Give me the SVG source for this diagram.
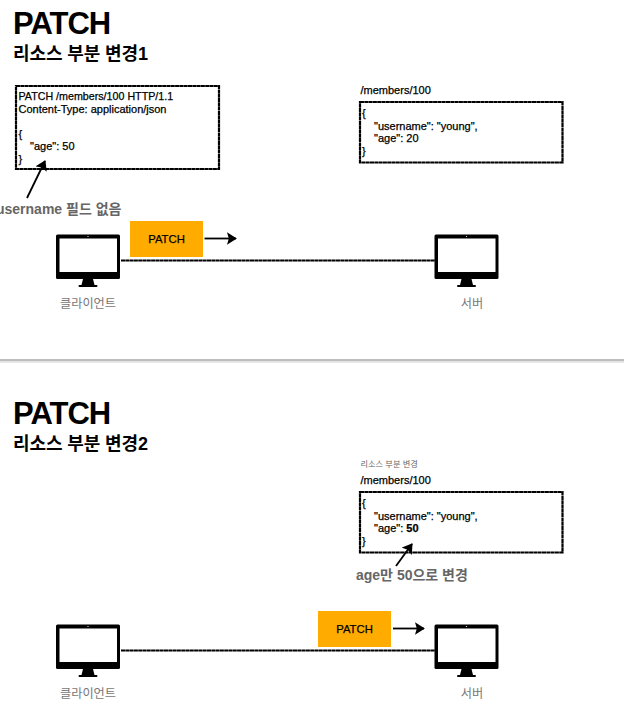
<svg xmlns="http://www.w3.org/2000/svg" width="624" height="715" viewBox="0 0 624 715">
<style>
text{font-family:"Liberation Sans","Noto Sans CJK KR",sans-serif;fill:#000}
.title{font-size:31px;font-weight:700;letter-spacing:-1px}
.sub{font-size:18px;font-weight:700;letter-spacing:-.1px}
.code{font-size:11px;stroke:#000;stroke-width:.25px}
.box{fill:#fff;stroke:#000;stroke-width:2.200;stroke-dasharray:4 .3}
.line{fill:none;stroke:#000;stroke-width:1.800;stroke-dasharray:4 .3}
.arrow{fill:none;stroke:#000;stroke-width:1.800}
.head{fill:#000}
.cap{font-size:12.200px;fill:#777;text-anchor:middle}
.note{font-size:14px;font-weight:700;fill:#666}
.btn{fill:#ffab00}
.btnt{font-size:11.300px;text-anchor:middle;stroke:#000;stroke-width:.25px}
</style>
<defs>
<marker id="ah" markerWidth="6" markerHeight="7" refX="5" refY="3.500" orient="auto" markerUnits="strokeWidth"><path d="M0 0L5.500 3.500L0 7L1 3.500Z" class="head"/></marker>
<g id="mon">
<rect x="0" y="0" width="64" height="44.500" rx="1.500" fill="#000"/>
<rect x="3.500" y="4" width="57.500" height="33.500" fill="#fff"/>
<circle cx="32" cy="2" r=".6" fill="#fff"/>
<path d="M27 44.500H37L38.500 50.500H25.500Z" fill="#000"/>
<rect x="22.500" y="50.500" width="19" height="2" rx="1" fill="#000"/>
</g>
</defs>
<rect x="0" y="359" width="624" height="2.500" fill="#bdbdbd"/>
<rect x="0" y="361.500" width="624" height="1.500" fill="#e8e8e8"/>

<g id="slide1-title">
<text class="title" x="13" y="34">PATCH</text>
<text class="sub" x="13" y="60">리소스 부분 변경1</text>
</g>
<g id="request">
<rect class="box" x="16" y="86" width="203" height="83"/>
<text class="code" x="18.500" y="100" style="font-size:10.700px">PATCH /members/100 HTTP/1.1</text>
<text class="code" x="18.500" y="113">Content-Type: application/json</text>
<text class="code" x="18.500" y="138">{</text>
<text class="code" x="30" y="150">"age": 50</text>
<text class="code" x="18.500" y="163">}</text>
</g>
<g id="resource1">
<text class="code" x="360.500" y="94">/members/100</text>
<rect class="box" x="360" y="102" width="202.500" height="60.500"/>
<text class="code" x="362" y="117">{</text>
<text class="code" x="374" y="130">"username": "young",</text>
<text class="code" x="374" y="141.500">"age": 20</text>
<text class="code" x="362" y="155">}</text>
</g>
<g id="note1"><text class="note" x="-4" y="214">username 필드 없음</text></g>
<g id="client1">
<use href="#mon" x="56" y="234.500"/>
<text class="cap" x="88" y="308">클라이언트</text>
</g>
<g id="server1">
<use href="#mon" x="434.500" y="234.500"/>
<text class="cap" x="472" y="308">서버</text>
</g>
<g id="patch1">
<rect class="btn" x="130" y="221" width="73" height="36"/>
<text class="btnt" x="166.500" y="243">PATCH</text>
</g>

<g id="slide2-title">
<text class="title" x="13" y="424">PATCH</text>
<text class="sub" x="13" y="450">리소스 부분 변경2</text>
</g>
<g id="resource2">
<text x="360.500" y="467" font-size="8.200" style="fill:#666">리소스 부분 변경</text>
<text class="code" x="360.500" y="484">/members/100</text>
<rect class="box" x="360" y="492" width="202.500" height="60.500"/>
<text class="code" x="362" y="507">{</text>
<text class="code" x="374" y="520">"username": "young",</text>
<text class="code" x="374" y="531.500">"age": <tspan font-weight="700">50</tspan></text>
<text class="code" x="362" y="545">}</text>
</g>
<g id="note2"><text class="note" x="356" y="580">age만 50으로 변경</text></g>
<g id="client2">
<use href="#mon" x="56" y="624.500"/>
<text class="cap" x="88" y="698">클라이언트</text>
</g>
<g id="server2">
<use href="#mon" x="434.500" y="624.500"/>
<text class="cap" x="472" y="698">서버</text>
</g>
<g id="patch2">
<rect class="btn" x="318" y="611" width="73" height="36"/>
<text class="btnt" x="354.500" y="633">PATCH</text>
</g>

<g id="connectors">
<path class="line" d="M121 260.500H435"/>
<path class="line" d="M121 650.500H435"/>
<path class="arrow" d="M204.500 238.500H236" marker-end="url(#ah)"/>
<path class="arrow" d="M393 628.500H424" marker-end="url(#ah)"/>
<path class="arrow" d="M27 198L45 161" marker-end="url(#ah)"/>
<path class="arrow" d="M396 566L412 544" marker-end="url(#ah)"/>
</g>
</svg>
